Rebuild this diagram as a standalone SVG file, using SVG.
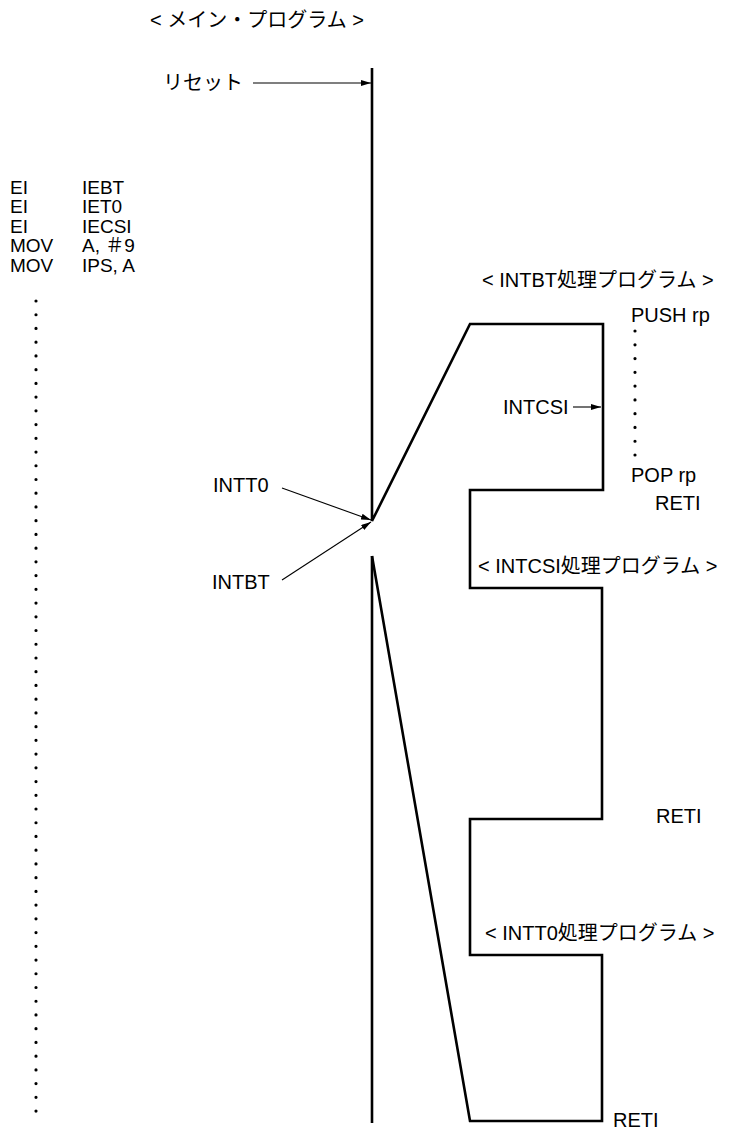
<svg xmlns="http://www.w3.org/2000/svg" width="730" height="1129" viewBox="0 0 730 1129">
<style>
text{font-family:"Liberation Sans","Noto Sans CJK JP",sans-serif;font-size:20px;fill:#000}
.code{font-size:19px}
.thick{fill:none;stroke:#000;stroke-width:2.6;stroke-linejoin:miter}
.thin{fill:none;stroke:#000;stroke-width:1.1}
.dots{fill:none;stroke:#000;stroke-width:3.2;stroke-linecap:round}
</style>
<defs>
<marker id="ah" viewBox="0 0 10 6" refX="10" refY="3" markerWidth="10" markerHeight="6" markerUnits="userSpaceOnUse" orient="auto">
<path d="M0,0 L10,3 L0,6 z" fill="#000"/>
</marker>
</defs>
<rect width="730" height="1129" fill="#fff"/>
<g id="title-main"><text x="150" y="27">&lt; メイン・プログラム &gt;</text></g>
<g id="reset"><text x="163" y="90">リセット</text></g>
<g id="main-code">
<text class="code" x="10" y="193.5">EI</text><text class="code" x="82" y="193.5">IEBT</text>
<text class="code" x="10" y="213">EI</text><text class="code" x="82" y="213">IET0</text>
<text class="code" x="10" y="232.5">EI</text><text class="code" x="82" y="232.5">IECSI</text>
<text class="code" x="10" y="252">MOV</text><text class="code" x="82" y="252">A, ＃9</text>
<text class="code" x="10" y="271.5">MOV</text><text class="code" x="82" y="271.5">IPS, A</text>
<line class="dots" x1="36" y1="301" x2="36" y2="1112" stroke-dasharray="0 13.73"/>
</g>
<g id="intt0-label"><text x="213" y="492">INTT0</text></g>
<g id="intbt-label"><text x="212" y="589">INTBT</text></g>
<g id="intbt-prog">
<text x="482" y="287">&lt; INTBT処理プログラム &gt;</text>
<text x="631" y="322">PUSH rp</text>
<line class="dots" x1="635" y1="331" x2="635" y2="456" stroke-dasharray="0 13.78"/>
<text x="631" y="482">POP rp</text>
<text x="655" y="510">RETI</text>
</g>
<g id="intcsi-label"><text x="503" y="414">INTCSI</text></g>
<g id="intcsi-prog">
<text x="478" y="573">&lt; INTCSI処理プログラム &gt;</text>
<text x="656" y="823">RETI</text>
</g>
<g id="intt0-prog">
<text x="485" y="940">&lt; INTT0処理プログラム &gt;</text>
<text x="613" y="1127">RETI</text>
</g>
<g id="connectors">
<path class="thick" d="M372,68 V521 L470,324 H603 V490 H470 V588 H602 V819 H470 V955 H602 V1121 H470 L372,556"/>
<line class="thick" x1="372" y1="556" x2="372" y2="1123"/>
<line class="thin" x1="253" y1="83" x2="371" y2="83" marker-end="url(#ah)"/>
<line class="thin" x1="282" y1="488" x2="371" y2="520" marker-end="url(#ah)"/>
<line class="thin" x1="282" y1="580" x2="371" y2="522" marker-end="url(#ah)"/>
<line class="thin" x1="573" y1="407" x2="601" y2="407" marker-end="url(#ah)"/>
</g>
</svg>
